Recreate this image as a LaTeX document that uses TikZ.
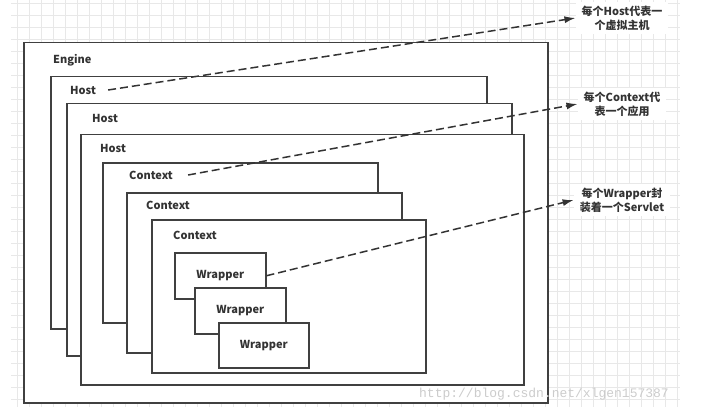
\documentclass[tikz,border=0pt]{standalone}
\usepackage{fontspec}
\setmainfont{Noto Sans CJK SC}
\newfontfamily\wmfont{Liberation Mono}
\usepackage{xcolor}
\usepackage{tikz}
\usetikzlibrary{arrows.meta, positioning}

\definecolor{boxgray}{HTML}{404040}
\definecolor{txtgray}{HTML}{333333}
\definecolor{gridgray}{HTML}{E8E8E8}

\begin{document}
\begin{tikzpicture}[x=1pt, y=-1pt,
    frame/.style={rectangle, draw=boxgray, line width=1.5pt, fill=white, anchor=north west, inner sep=0pt},
    wrapper/.style={frame, font=\fontsize{11}{12}\selectfont\bfseries, text=txtgray},
    lbl/.style={anchor=west, inner sep=2pt, font=\fontsize{11}{12}\selectfont\bfseries, text=txtgray},
    note/.style={align=center, fill=white, inner xsep=6pt, inner ysep=4pt, font=\fontsize{11}{14}\selectfont\bfseries, text=txtgray},
    arrow/.style={-{Latex[length=11pt, width=7pt]}, draw=txtgray, line width=1.5pt, dash pattern=on 8pt off 4pt},
    gridline/.style={draw=gridgray, line width=0.6pt}
]
\useasboundingbox (0,0) rectangle (712,409);

% Grid
\foreach \gx in {17,29,...,677} \draw[gridline] (\gx,0) -- (\gx,407);
\foreach \gy in {3,15,...,405} \draw[gridline] (11,\gy) -- (680,\gy);

% Engine
\node[frame, minimum width=524pt, minimum height=360pt] (engine) at (23,42) {};
\node[lbl] (enginelbl) at (51,60) {Engine};

% Hosts
\node[frame, minimum width=436pt, minimum height=252pt] (host1) at (50,76) {};
\node[lbl] (host1lbl) at (68,90) {Host};
\node[frame, minimum width=445pt, minimum height=252pt] (host2) at (66,103) {};
\node[lbl] (host2lbl) at (90,118) {Host};
\node[frame, minimum width=443pt, minimum height=250pt] (host3) at (80,134) {};
\node[lbl] (host3lbl) at (98,148) {Host};

% Contexts
\node[frame, minimum width=275pt, minimum height=160pt] (ctx1) at (102,162) {};
\node[lbl] (ctx1lbl) at (127,175) {Context};
\node[frame, minimum width=275pt, minimum height=160pt] (ctx2) at (126,192) {};
\node[lbl] (ctx2lbl) at (144,205) {Context};
\node[frame, minimum width=274pt, minimum height=153pt] (ctx3) at (151,219) {};
\node[lbl] (ctx3lbl) at (171,235) {Context};

% Wrappers
\node[wrapper, minimum width=91pt, minimum height=46pt] (wrap1) at (174,252) {Wrapper};
\node[wrapper, minimum width=91pt, minimum height=46pt] (wrap2) at (194,287) {Wrapper};
\node[wrapper, minimum width=90pt, minimum height=45pt] (wrap3) at (218,322) {Wrapper};

% Notes
\node[note] (hostnote) at (622,18) {每个Host代表一\\个虚拟主机};
\node[note] (ctxnote) at (622,104) {每个Context代\\表一个应用};
\node[note] (wrapnote) at (622,200) {每个Wrapper封\\装着一个Servlet};

% Arrows
\draw[arrow] ([xshift=10pt]host1lbl.east) -- (hostnote.west);
\draw[arrow] ([xshift=13pt]ctx1lbl.east) -- (ctxnote.west);
\draw[arrow] (wrap1.east) -- (wrapnote.west);

% Watermark
\node[text=black!20, font=\wmfont\fontsize{13}{14}\selectfont, inner sep=0pt] (mark) at (544,394) {http://blog.csdn.net/xlgen157387};

\end{tikzpicture}
\end{document}
